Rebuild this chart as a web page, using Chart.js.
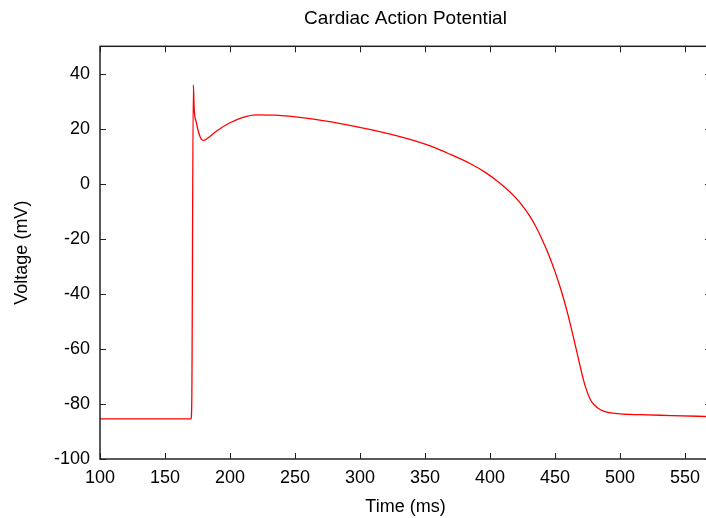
<!DOCTYPE html>
<html>
<head>
<meta charset="utf-8">
<title>Cardiac Action Potential</title>
<script src="https://cdn.jsdelivr.net/npm/chart.js@4"></script>
<style>
  html, body { margin: 0; padding: 0; background: #fff; overflow: hidden; }
  #wrap { width: 706px; height: 518px; overflow: hidden; }
  canvas { display: block; }
</style>
</head>
<body>
<div id="wrap"><canvas id="chart" width="712" height="518"></canvas></div>
<script>
// values
const timeMs = [
  100, 170, 170.6, 171.8, 172.5, 174, 176, 178, 180, 183, 190, 200, 210, 220, 235,
  260, 285, 310, 335, 355, 370, 385, 397, 405, 410, 415, 420, 425, 430, 435, 440,
  445, 450, 455, 460, 465, 470, 472, 474, 477, 480, 485, 490, 500, 515, 540, 570
];
const voltageMv = [
  -85.4, -85.4, -79, 36.0, 26.9, 22.5, 18.5, 16.2, 15.8, 16.7, 19.3, 22.2, 24.2, 25.1, 25.0,
  23.8, 21.9, 19.5, 16.6, 13.6, 10.6, 7.3, 4.0, 1.2, -0.7, -2.8, -5.2, -8.0, -11.3, -15.3, -20.1,
  -25.6, -31.9, -39.1, -47.6, -57.4, -67.6, -71.4, -74.6, -78.2, -80.3, -82.1, -83.0, -83.6, -83.9, -84.2, -84.6
];
const xTicksMax = 550;
const yTicksMax = 40;

const FONT = '"Liberation Sans", Arial, Helvetica, sans-serif';

// gnuplot-like border with inward tick marks on all four sides
const frame = {
  id: 'frame',
  afterDraw(chart) {
    const { ctx, chartArea: a, scales } = chart;
    ctx.save();
    ctx.strokeStyle = '#222';
    ctx.lineWidth = 1;
    ctx.beginPath();
    scales.x.ticks.forEach(t => {
      const px = Math.round(scales.x.getPixelForValue(t.value)) + 0.5;
      ctx.moveTo(px, a.bottom); ctx.lineTo(px, a.bottom - 6);
      ctx.moveTo(px, a.top); ctx.lineTo(px, a.top + 6);
    });
    scales.y.ticks.forEach(t => {
      const py = Math.round(scales.y.getPixelForValue(t.value)) + 0.5;
      ctx.moveTo(a.left, py); ctx.lineTo(a.left + 6, py);
      ctx.moveTo(a.right, py); ctx.lineTo(a.right - 6, py);
    });
    ctx.stroke();
    ctx.lineWidth = 1.5;
    ctx.strokeRect(a.left, a.top, a.right - a.left, a.bottom - a.top);
    ctx.restore();
  }
};

const ctx = document.getElementById('chart').getContext('2d');

new Chart(ctx, {
  type: 'line',
  data: {
    datasets: [{
      data: timeMs.map((t, i) => ({ x: t, y: voltageMv[i] })),
      borderColor: '#ff0000',
      borderWidth: 1.3,
      pointRadius: 0,
      cubicInterpolationMode: 'monotone',
      fill: false
    }]
  },
  options: {
    responsive: false,
    animation: false,
    devicePixelRatio: 1,
    layout: { padding: { left: 0, right: 1, top: 0, bottom: 0 } },
    plugins: {
      legend: { display: false },
      tooltip: { enabled: false },
      title: {
        display: true,
        text: 'Cardiac Action Potential',
        color: '#000',
        fullSize: false,
        font: { family: FONT, size: 19, weight: 'normal' },
        padding: { top: 7, bottom: 16.5 }
      }
    },
    scales: {
      x: {
        type: 'linear',
        min: 100,
        max: 570,
        afterBuildTicks: s => { s.ticks = s.ticks.filter(t => t.value <= xTicksMax); },
        afterFit: s => { s.height = 59; },
        ticks: {
          stepSize: 50,
          includeBounds: false,
          autoSkip: false,
          color: '#000',
          padding: 8,
          maxRotation: 0,
          font: { family: FONT, size: 18 }
        },
        grid: { display: false, drawTicks: false },
        border: { display: false },
        title: {
          display: true,
          text: 'Time (ms)',
          color: '#000',
          font: { family: FONT, size: 18 },
          padding: { top: 0, bottom: 0 }
        }
      },
      y: {
        type: 'linear',
        min: -100,
        max: 50,
        afterBuildTicks: s => { s.ticks = s.ticks.filter(t => t.value <= yTicksMax); },
        afterFit: s => { s.width = 100; },
        ticks: {
          stepSize: 20,
          includeBounds: false,
          autoSkip: false,
          color: '#000',
          padding: 10,
          font: { family: FONT, size: 18 }
        },
        grid: { display: false, drawTicks: false },
        border: { display: false },
        title: {
          display: true,
          text: 'Voltage (mV)',
          color: '#000',
          font: { family: FONT, size: 18 },
          padding: { top: 11, bottom: 0 }
        }
      }
    }
  },
  plugins: [frame]
});
</script>
</body>
</html>
